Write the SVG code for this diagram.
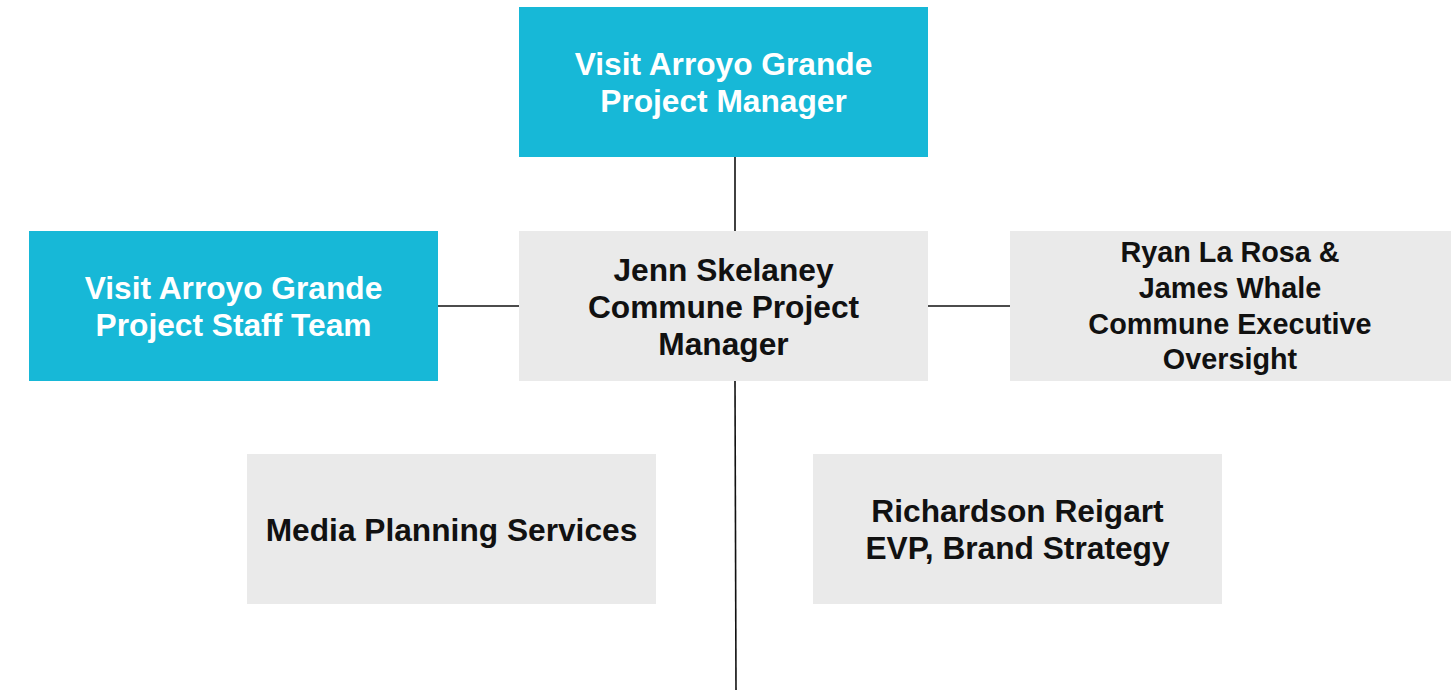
<svg xmlns="http://www.w3.org/2000/svg" width="1456" height="690" viewBox="0 0 1456 690">
  <style>
    .cyan { fill: #17b8d7; }
    .gray { fill: #eaeaea; }
    .lbl { font-family: "Liberation Sans", Arial, sans-serif; font-weight: bold; font-size: 31.7px; text-anchor: middle; }
    .lbl-sm { font-size: 28.8px; }
    .lbl-w { fill: #ffffff; }
    .lbl-k { fill: #111111; }
    .conn { stroke: #111111; stroke-width: 1.6; fill: none; }
  </style>
  <rect width="1456" height="690" fill="#ffffff"/>

  <!-- connectors -->
  <g id="connectors">
    <line class="conn" x1="735" y1="157" x2="735" y2="231"/>
    <line class="conn" x1="735" y1="381" x2="736" y2="690"/>
    <line class="conn" x1="438" y1="306" x2="519" y2="306"/>
    <line class="conn" x1="928" y1="306" x2="1010" y2="306"/>
  </g>

  <g id="vag-project-manager">
    <rect class="cyan" x="519" y="7" width="409" height="150"/>
    <text class="lbl lbl-w" x="723.5" y="75">Visit Arroyo Grande</text>
    <text class="lbl lbl-w" x="723.5" y="112">Project Manager</text>
  </g>

  <g id="vag-staff-team">
    <rect class="cyan" x="29" y="231" width="409" height="150"/>
    <text class="lbl lbl-w" x="233.5" y="299">Visit Arroyo Grande</text>
    <text class="lbl lbl-w" x="233.5" y="336">Project Staff Team</text>
  </g>

  <g id="commune-project-manager">
    <rect class="gray" x="519" y="231" width="409" height="150"/>
    <text class="lbl lbl-k" x="723.5" y="281">Jenn Skelaney</text>
    <text class="lbl lbl-k" x="723.5" y="318">Commune Project</text>
    <text class="lbl lbl-k" x="723.5" y="355">Manager</text>
  </g>

  <g id="executive-oversight">
    <rect class="gray" x="1010" y="231" width="441" height="150"/>
    <text class="lbl lbl-sm lbl-k" x="1230" y="262">Ryan La Rosa &amp;</text>
    <text class="lbl lbl-sm lbl-k" x="1230" y="298">James Whale</text>
    <text class="lbl lbl-sm lbl-k" x="1230" y="334">Commune Executive</text>
    <text class="lbl lbl-sm lbl-k" x="1230" y="369">Oversight</text>
  </g>

  <g id="media-planning">
    <rect class="gray" x="247" y="454" width="409" height="150"/>
    <text class="lbl lbl-k" x="451.5" y="541">Media Planning Services</text>
  </g>

  <g id="brand-strategy">
    <rect class="gray" x="813" y="454" width="409" height="150"/>
    <text class="lbl lbl-k" x="1017.5" y="522">Richardson Reigart</text>
    <text class="lbl lbl-k" x="1017.5" y="559">EVP, Brand Strategy</text>
  </g>
</svg>
